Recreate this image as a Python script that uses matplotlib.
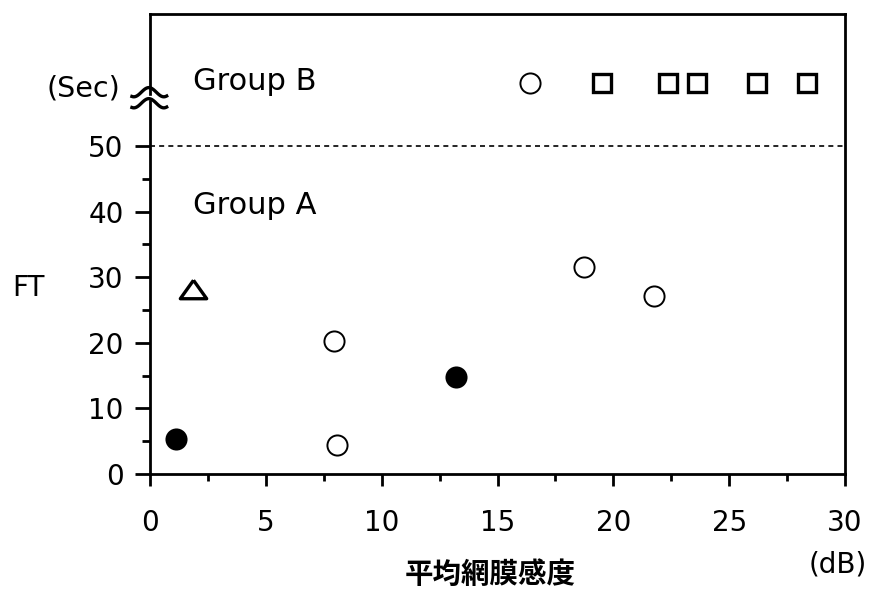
import numpy as np
import matplotlib
matplotlib.use("Agg")
import matplotlib.pyplot as plt
from matplotlib.ticker import MultipleLocator, FixedLocator

plt.rcParams['font.family'] = ['DejaVu Sans', 'Noto Sans CJK JP']

# Group A (FT < 50 sec)
open_x = [7.96, 8.06, 18.74, 21.77]
open_y = [20.3, 4.4, 31.5, 27.2]
filled_x = [1.11, 13.2]
filled_y = [5.4, 14.8]
tri_x = [1.87]
tri_y = [28.2]

# Group B (above the axis break)
groupb_level = 59.6
groupb_circle_x = [16.4]
groupb_square_x = [19.53, 22.37, 23.59, 26.18, 28.34]

xticks = [0, 5, 10, 15, 20, 25, 30]
yticks = [0, 10, 20, 30, 40, 50]

fig = plt.figure(figsize=(8.69, 5.89), dpi=100)
ax = fig.add_axes([150 / 869, 1 - 474 / 589, 695 / 869, 460 / 589])

# dashed separator between groups
ax.plot([0, 30], [50, 50], ls=(0, (3, 2.5)), color='black', lw=1.2)

ax.plot(open_x, open_y, 'o', ms=14.5, mfc='white', mec='black', mew=1.4, ls='none')
ax.plot(filled_x, filled_y, 'o', ms=14.5, mfc='black', mec='black', mew=1.4, ls='none')
tri = [(0, 0.7), (-1, -0.7), (1, -0.7), (0, 0.7)]
ax.plot(tri_x, tri_y, marker=tri, ms=19, mfc='white', mec='black', mew=2.4, ls='none')
ax.plot(groupb_circle_x, [groupb_level] * len(groupb_circle_x), 'o', ms=14.5,
        mfc='white', mec='black', mew=1.4, ls='none')
ax.plot(groupb_square_x, [groupb_level] * len(groupb_square_x), 's', ms=12.5,
        mfc='white', mec='black', mew=2.4, ls='none')

ax.set_xlim(0, 30)
ax.set_ylim(0, 70.1)
ax.set_xticks(xticks)
ax.set_yticks(yticks)
ax.xaxis.set_minor_locator(MultipleLocator(2.5))
ax.yaxis.set_minor_locator(FixedLocator([5, 15, 25, 35, 45]))

for s in ax.spines.values():
    s.set_linewidth(2.0)
ax.tick_params(axis='y', which='major', direction='out', length=11, width=2, labelsize=20, pad=8)
ax.tick_params(axis='y', which='minor', direction='out', length=5.5, width=2)
ax.tick_params(axis='x', which='major', direction='out', length=8.5, width=2, labelsize=20, pad=17)
ax.tick_params(axis='x', which='minor', direction='out', length=5, width=2)

ax.text(43 / 695, (474 - 81) / 460, 'Group B', transform=ax.transAxes,
        fontsize=22, ha='left', va='center')
ax.text(43 / 695, (474 - 205) / 460, 'Group A', transform=ax.transAxes,
        fontsize=22, ha='left', va='center')

# axis break mark on the left spine
t = np.linspace(-np.pi / 2 - 0.4, 3 * np.pi / 2 + 0.6, 60)
wx = np.linspace(-0.026, 0.024, 60)
for yc in (0.830, 0.806):
    ax.plot(wx, yc + 0.010 * np.sin(t), color='black', lw=2.4,
            transform=ax.transAxes, clip_on=False, zorder=5)
ax.fill_between([-0.006, 0.006], 0.815, 0.822, color='white',
                transform=ax.transAxes, clip_on=False, zorder=4)

fig.text(120 / 869, 1 - 88 / 589, '(Sec)', fontsize=20.5, ha='right', va='center')
fig.text(28 / 869, 1 - 288 / 589, 'FT', fontsize=20, ha='center', va='center')
fig.text(490 / 869, 1 - 575 / 589, '平均網膜感度', fontsize=20.5, fontweight='bold',
         family=['Noto Sans CJK JP', 'DejaVu Sans'], ha='center', va='center')
fig.text(867 / 869, 1 - 565 / 589, '(dB)', fontsize=20, ha='right', va='center')

fig.savefig('out.png', dpi=100)
